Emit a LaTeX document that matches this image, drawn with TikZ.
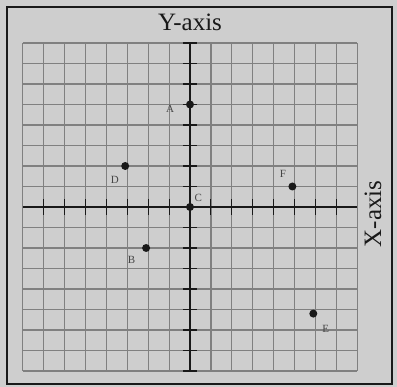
\documentclass[tikz,border=0pt]{standalone}
\usepackage{fontspec}
\setmainfont{Liberation Serif}
\definecolor{paper}{RGB}{206,206,206}
\definecolor{gridc}{RGB}{128,128,128}
\definecolor{ink}{RGB}{25,25,25}
\definecolor{lab}{RGB}{70,70,70}
\tikzset{
  gridline/.style={draw=gridc, line width=1.2pt},
  axisline/.style={draw=ink, line width=1.8pt},
  tickmark/.style={draw=ink, line width=1.1pt},
  pt/.style={circle, fill=ink, inner sep=0pt, minimum size=8pt},
  ptlabel/.style={text=lab, font=\fontsize{11}{11}\selectfont, inner sep=0pt},
  axlabel/.style={text=ink, font=\fontsize{25}{25}\selectfont, inner sep=0pt}
}
\begin{document}
\begin{tikzpicture}[x=1pt,y=-1pt]
\fill[paper] (0,0) rectangle (397,387);
\useasboundingbox (0,0) rectangle (397,387);
\draw[ink, line width=2.4pt] (7,7) rectangle (392,384);
\begin{scope}[shift={(190,207)}, x=20.9pt, y=20.5pt]
  % grid
  \foreach \i in {-8,...,8} {
    \draw[gridline] (\i,-8) -- (\i,8);
    \draw[gridline] (-8,\i) -- (8,\i);
  }
  % axes
  \draw[axisline] (-8,0) -- (8,0);
  \draw[axisline] (0,-8) -- (0,8);
  \foreach \i in {-7,...,7} {
    \draw[tickmark] (\i,-0.38) -- (\i,0.38);
    \draw[tickmark] (-0.34,\i) -- (0.34,\i);
  }
  \draw[tickmark] (-0.34,8) -- (0.34,8);
  \draw[tickmark] (-0.34,-8) -- (0.34,-8);
  % points
  \node[pt] (A) at (0,5) {};
  \node[pt] (C) at (0,0) {};
  \node[pt] (D) at (-3.1,2) {};
  \node[pt] (F) at (4.9,1) {};
  \node[pt] (B) at (-2.1,-2) {};
  \node[pt] (E) at (5.9,-5.2) {};
  \node[ptlabel] (lA) at (-0.95,4.8) {A};
  \node[ptlabel] (lC) at (0.4,0.45) {C};
  \node[ptlabel] (lD) at (-3.6,1.3) {D};
  \node[ptlabel] (lF) at (4.45,1.6) {F};
  \node[ptlabel] (lB) at (-2.8,-2.6) {B};
  \node[ptlabel] (lE) at (6.5,-5.95) {E};
\end{scope}
\node[axlabel] (ylab) at (190,22) {Y-axis};
\node[axlabel, rotate=90] (xlab) at (373,214) {X-axis};
\end{tikzpicture}
\end{document}
